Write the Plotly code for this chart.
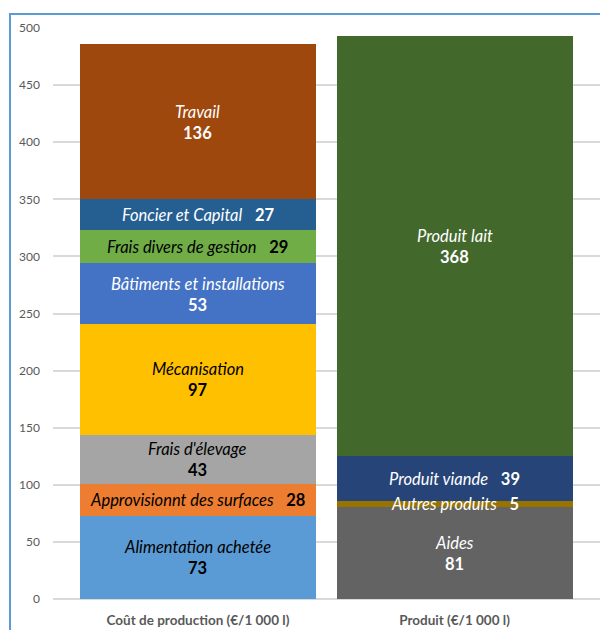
import plotly.graph_objects as go

categories = ["Coût de production (€/1 000 l)", "Produit (€/1 000 l)"]

cost_labels = ["Alimentation achetée", "Approvisionnt des surfaces", "Frais d'élevage",
               "Mécanisation", "Bâtiments et installations", "Frais divers de gestion",
               "Foncier et Capital", "Travail"]
cost_values = [73, 28, 43, 97, 53, 29, 27, 136]

prod_labels = ["Aides", "Autres produits", "Produit viande", "Produit lait"]
prod_values = [81, 5, 39, 368]

y_ticks = [0, 50, 100, 150, 200, 250, 300, 350, 400, 450, 500]

# styles
cost_colors = ["#5B9BD5", "#ED7D31", "#A5A5A5", "#FFC000", "#4472C4", "#70AD47", "#255E91", "#9E480E"]
cost_text_colors = ["#000000", "#000000", "#000000", "#000000", "#FFFFFF", "#000000", "#FFFFFF", "#FFFFFF"]
cost_one_line = [False, True, False, False, False, True, True, False]
prod_colors = ["#636363", "#997300", "#264478", "#43682B"]
prod_text_colors = ["#FFFFFF", "#FFFFFF", "#FFFFFF", "#FFFFFF"]
prod_one_line = [False, True, True, False]

FONT = "Lato, Carlito, 'Open Sans', sans-serif"
LABEL_SIZE = 16.5
BAR_W = 0.92

fig = go.Figure()
annotations = []


def add_stack(cat, labels, values, colors, tcolors, one_line):
    base = 0
    for lab, val, col, tc, ol in zip(labels, values, colors, tcolors, one_line):
        fig.add_trace(go.Bar(x=[cat], y=[val], name=lab, marker_color=col,
                             marker_line_width=0, width=BAR_W, hoverinfo="name+y"))
        mid = base + val / 2
        if ol:
            annotations.append(dict(x=cat, y=mid, xref="x", yref="y", showarrow=False,
                                    text=f"<i>{lab}</i>\u00a0\u00a0\u00a0<b>{val}</b>",
                                    font=dict(family=FONT, size=LABEL_SIZE, color=tc)))
        else:
            annotations.append(dict(x=cat, y=mid, xref="x", yref="y", showarrow=False,
                                    text=f"<i>{lab}</i>", yshift=10,
                                    font=dict(family=FONT, size=LABEL_SIZE, color=tc)))
            annotations.append(dict(x=cat, y=mid, xref="x", yref="y", showarrow=False,
                                    text=f"<b>{val}</b>", yshift=-11,
                                    font=dict(family=FONT, size=LABEL_SIZE, color=tc)))
        base += val


add_stack(categories[0], cost_labels, cost_values, cost_colors, cost_text_colors, cost_one_line)
add_stack(categories[1], prod_labels, prod_values, prod_colors, prod_text_colors, prod_one_line)

fig.update_layout(
    width=600, height=630,
    margin=dict(l=53, r=0, t=28, b=31),
    barmode="stack",
    showlegend=False,
    plot_bgcolor="white",
    paper_bgcolor="white",
    annotations=annotations,
    font=dict(family=FONT, color="#595959"),
    shapes=[dict(type="rect", xref="paper", yref="paper",
                 x0=-0.0786, x1=1.2, y0=-0.3, y1=1.0245,
                 line=dict(color="#5B9BD5", width=2), fillcolor="rgba(0,0,0,0)", layer="above")],
)
fig.update_xaxes(type="category", range=[-0.565, 1.567], showgrid=False, showline=False,
                 ticks="", tickfont=dict(family=FONT, size=13.5, color="#595959", weight="bold"),
                 ticklabelstandoff=11)
fig.update_yaxes(range=[0, 500], tickvals=y_ticks, showgrid=True, gridcolor="#D9D9D9",
                 gridwidth=1.5, zeroline=True, zerolinecolor="#D9D9D9", zerolinewidth=1.5,
                 tickfont=dict(family=FONT, size=12, color="#595959"), ticks="",
                 ticklabelstandoff=12)

fig.write_html("out.html", config={"displayModeBar": False},
               post_script="document.body.style.margin='0';document.body.style.overflow='hidden';")
